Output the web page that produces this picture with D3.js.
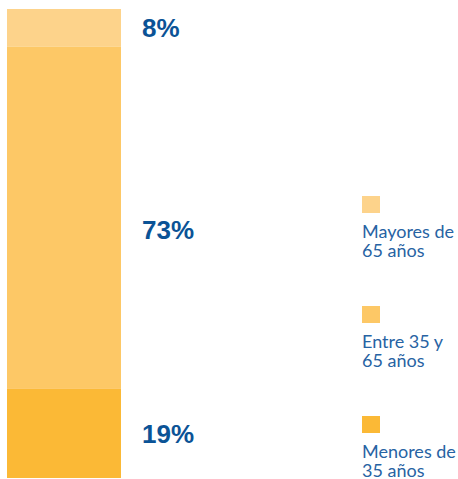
<!DOCTYPE html>
<html>
<head>
<meta charset="utf-8">
<script src="https://cdn.jsdelivr.net/npm/d3@7"></script>
<style>
  html, body { margin: 0; padding: 0; background: #fff; }
  svg { display: block; }
</style>
</head>
<body>
<div id="chart"></div>
<script>
// data, from top of the bar to the bottom
var categories = ["Mayores de 65 años", "Entre 35 y 65 años", "Menores de 35 años"];
var values = [8, 73, 19];
var legendLines = [["Mayores de", "65 años"], ["Entre 35 y", "65 años"], ["Menores de", "35 años"]];
var colors = ["#fdd38b", "#fdc866", "#fbb936"];

var width = 458, height = 479;

var svg = d3.select("#chart").append("svg")
    .attr("width", width)
    .attr("height", height);

// stack the values top-down
var stacked = [];
var acc = 0;
values.forEach(function(v, i) {
  stacked.push({ name: categories[i], value: v, y0: acc, y1: acc + v, color: colors[i] });
  acc += v;
});

var y = d3.scaleLinear().domain([0, d3.sum(values)]).range([9, 478]);
var x = d3.scaleBand().domain(["total"]).range([7, 121]).padding(0);

svg.append("g").attr("class", "bars").selectAll("rect")
    .data(stacked)
  .enter().append("rect")
    .attr("x", x("total"))
    .attr("width", x.bandwidth())
    .attr("y", function(d) { return y(d.y0); })
    .attr("height", function(d) { return y(d.y1) - y(d.y0); })
    .attr("fill", function(d) { return d.color; });

// labels sit at the segment middle; the big one is nudged down a bit like the original
svg.append("g").attr("class", "labels").selectAll("text")
    .data(stacked)
  .enter().append("text")
    .attr("x", x("total") + x.bandwidth() + 21)
    .attr("y", function(d) {
      var mid = (y(d.y0) + y(d.y1)) / 2;
      return d.value > 50 ? mid + 12 : mid;
    })
    .attr("dy", "0.36em")
    .attr("font-family", "'Liberation Sans', Arial, sans-serif")
    .attr("font-weight", "bold")
    .attr("font-size", 26)
    .attr("fill", "#0b5396")
    .text(function(d) { return d.value + "%"; });

// legend
var legendY = d3.scalePoint().domain(categories).range([196, 416]);

var legend = svg.append("g").attr("class", "legend").selectAll("g")
    .data(categories)
  .enter().append("g")
    .attr("transform", function(d) { return "translate(362," + legendY(d) + ")"; });

legend.append("rect")
    .attr("width", 18)
    .attr("height", 17)
    .attr("fill", function(d, i) { return colors[i]; });

legend.append("text")
    .attr("font-family", "Lato, 'Open Sans', sans-serif")
    .attr("font-size", 18)
    .attr("fill", "#2763a3")
    .selectAll("tspan")
    .data(function(d, i) { return legendLines[i]; })
  .enter().append("tspan")
    .attr("x", 0)
    .attr("y", function(d, j) { return 42 + j * 19; })
    .text(function(d) { return d; });
</script>
</body>
</html>
